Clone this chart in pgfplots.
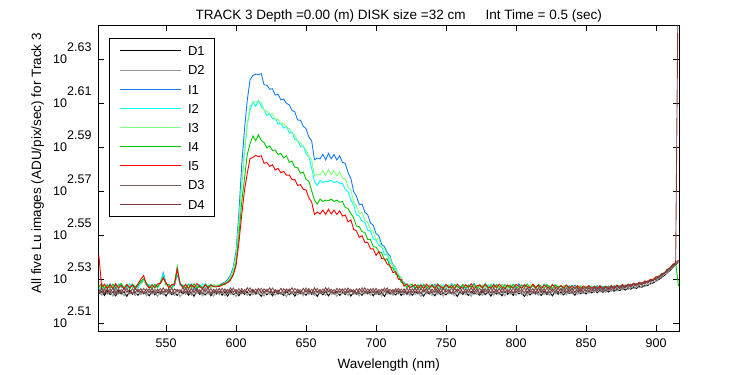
\documentclass[border=0pt]{standalone}
\usepackage{pgfplots}
\pgfplotsset{compat=1.18}
\usepackage{pgfplotstable}
\usepackage{fontspec}
\setmainfont{Liberation Sans}

\definecolor{cD2}{RGB}{150,150,150}
\definecolor{cI1}{RGB}{20,125,240}
\definecolor{cI2}{RGB}{0,255,255}
\definecolor{cI3}{RGB}{128,255,128}
\definecolor{cI4}{RGB}{0,200,0}
\definecolor{cI5}{RGB}{255,0,0}
\definecolor{cD3}{RGB}{125,90,90}
\definecolor{cD4}{RGB}{128,55,55}

\pgfplotstableread{
x D1 D2 I1 I2 I3 I4 I5 D3 D4
502 333.8 334.6 336.6 335.4 336.9 336.2 347.4 335.3 334.1
504 334.6 333.2 335.3 336.8 335.7 337.2 336.0 334.0 335.6
506 333.1 334.9 336.9 335.9 336.5 335.3 337.1 335.6 333.8
508 334.9 333.6 335.8 337.0 335.2 336.8 335.5 333.7 335.3
510 333.4 334.3 337.2 335.6 336.8 335.7 336.9 335.4 334.2
512 334.3 332.9 335.5 336.6 336.1 337.1 335.6 334.1 335.7
514 333.0 334.8 336.7 335.2 337.3 335.9 337.2 335.8 333.9
516 334.7 333.5 335.6 337.1 335.4 336.5 335.8 333.9 335.4
518 333.6 334.4 337.0 335.8 336.6 337.3 336.6 335.2 334.0
520 334.4 333.0 335.4 336.5 335.9 335.6 335.3 334.3 335.8
522 332.8 334.7 336.5 335.3 337.0 336.9 337.0 335.7 334.3
524 334.8 333.7 335.9 337.2 335.5 335.4 335.9 333.8 335.2
526 333.5 334.2 337.1 335.7 336.7 337.0 336.8 335.5 333.7
528 334.2 333.1 335.7 336.3 335.3 336.2 335.4 334.2 335.6
530 333.2 334.6 336.4 335.6 336.9 336.8 337.3 335.3 334.4
532 334.5 333.4 337.4 337.9 337.1 338.0 338.8 334.0 335.5
534 333.7 334.5 338.5 338.6 338.2 339.1 340.1 335.6 333.9
536 334.1 333.0 337.1 336.6 337.2 337.4 336.9 334.4 335.4
538 333.0 334.7 336.0 337.0 335.6 336.3 335.7 335.5 334.2
540 334.6 333.6 337.0 335.5 336.8 335.6 336.7 333.9 335.6
542 333.3 334.2 335.6 336.9 335.4 337.0 335.9 335.2 334.0
544 334.3 332.8 336.8 335.7 337.1 336.0 337.2 334.5 335.3
546 333.6 334.7 337.6 337.9 337.2 337.8 337.3 335.6 334.1
548 334.4 333.3 341.1 340.7 339.5 339.6 339.2 334.0 335.7
550 332.9 334.5 337.4 337.3 337.3 336.8 337.6 335.4 334.3
552 334.7 333.7 335.9 336.4 335.6 337.0 335.8 334.2 335.5
554 333.4 334.1 336.9 335.4 336.7 335.7 336.9 335.7 333.8
556 334.2 333.1 336.6 337.4 337.2 337.5 337.0 333.9 335.4
558 333.1 334.8 340.6 341.3 341.9 343.3 342.4 335.3 334.6
560 334.6 332.7 337.1 336.8 337.5 337.0 337.4 334.3 335.1
562 333.7 334.4 335.7 336.9 335.5 336.6 335.8 335.8 334.2
564 334.5 333.5 336.9 335.5 336.9 335.5 337.0 334.1 335.7
566 333.2 334.6 335.6 337.1 336.0 337.1 335.5 335.4 333.9
568 334.3 333.2 337.1 336.0 335.4 336.0 336.8 333.8 335.5
570 332.8 334.3 336.0 335.3 337.0 337.2 335.9 335.6 334.3
572 334.8 333.8 335.3 336.8 335.8 335.7 337.3 334.4 335.6
574 333.5 334.9 336.8 335.9 336.6 336.7 336.2 335.2 334.0
576 334.1 333.0 335.8 337.2 335.3 335.8 335.4 333.9 335.4
578 333.3 334.5 337.2 335.6 337.1 336.9 336.9 335.7 334.5
580 334.6 333.6 336.1 336.6 336.2 336.2 335.7 334.2 335.8
582 333.0 334.2 336.7 335.8 335.6 337.0 336.6 335.5 333.8
584 334.4 332.9 336.5 336.9 336.9 336.1 336.3 334.0 335.3
586 333.6 334.6 336.5 336.2 336.6 336.1 336.4 335.4 334.2
588 334.5 333.4 336.9 336.3 337.0 336.5 336.2 333.9 335.6
590 333.2 334.3 337.3 336.9 336.6 337.2 336.7 335.6 334.0
592 334.3 333.0 337.8 337.3 337.6 336.9 337.4 334.3 335.4
594 332.9 334.8 338.7 338.2 338.1 337.9 337.5 335.3 333.9
596 334.7 333.5 340.2 339.4 339.4 338.8 338.6 334.0 335.7
598 333.4 334.1 343.1 342.1 342.2 340.7 340.3 335.7 334.3
600 334.2 332.8 349.0 347.1 347.5 344.8 343.7 334.2 335.2
602 333.0 334.6 363.0 358.9 359.2 354.4 351.9 335.5 333.8
604 334.6 333.7 381.5 374.3 374.2 367.2 362.2 333.8 335.5
606 333.5 334.4 396.4 386.6 388.1 376.3 371.8 335.2 334.1
608 334.3 333.1 408.6 398.5 398.3 386.1 378.7 334.4 335.8
610 333.1 334.7 417.5 404.4 406.2 390.6 384.4 335.8 334.3
612 334.8 333.3 419.4 408.0 407.7 393.7 385.0 334.0 335.3
614 333.6 334.5 420.0 406.0 408.1 391.8 385.8 335.4 333.9
616 334.0 333.6 419.8 408.5 408.0 394.2 385.3 334.3 335.6
618 332.8 334.2 420.2 406.1 407.9 391.9 385.6 335.6 334.0
620 334.5 332.9 415.3 404.6 404.3 391.0 382.6 333.9 335.4
622 333.3 334.8 415.2 402.2 404.1 388.8 382.9 335.3 334.5
624 334.4 333.4 413.4 402.9 402.5 389.6 381.4 334.1 335.7
626 333.0 334.3 413.6 400.9 402.9 387.8 382.0 335.7 333.8
628 334.7 333.2 410.9 400.8 400.3 387.9 379.9 334.3 335.2
630 333.6 334.6 411.2 398.7 400.7 386.1 380.6 335.0 334.2
632 334.2 333.5 408.8 399.1 398.6 386.6 378.8 333.8 335.6
634 333.1 334.1 409.2 397.0 399.0 384.7 379.4 335.5 334.0
636 334.6 332.7 407.3 397.8 397.3 385.6 377.9 334.2 335.4
638 333.4 334.7 406.7 394.9 396.8 383.0 377.9 335.4 334.5
640 334.3 333.6 404.3 395.3 394.7 383.5 376.1 333.9 335.8
642 332.9 334.2 403.7 392.4 394.2 381.0 376.1 335.6 333.9
644 334.5 333.3 400.3 391.9 391.3 380.8 373.8 334.4 335.3
646 333.7 334.5 400.2 389.4 391.2 378.6 374.1 335.1 334.1
648 334.1 333.0 397.8 389.7 389.2 379.1 372.3 333.8 335.6
650 333.2 334.8 396.7 386.4 388.2 376.2 372.0 335.7 334.3
652 334.7 333.5 393.3 385.3 385.3 375.5 369.0 334.0 335.5
654 333.5 334.3 391.7 380.5 383.9 371.7 367.4 335.3 333.8
656 334.2 333.1 384.0 375.4 377.6 368.1 362.6 334.2 335.7
658 332.8 334.6 384.7 373.8 378.4 366.6 363.5 335.6 334.2
660 334.4 333.7 384.4 375.8 378.0 368.5 362.8 333.9 335.2
662 333.3 334.4 386.2 375.0 379.7 367.6 364.3 335.4 334.0
664 334.6 333.2 383.9 375.4 377.6 368.1 362.6 334.3 335.8
666 333.0 334.7 386.6 375.4 380.1 367.9 364.6 335.7 334.4
668 334.3 333.4 384.4 375.8 378.0 368.5 362.8 334.0 335.3
670 333.6 334.1 386.1 375.0 379.7 367.6 364.3 335.2 333.9
672 334.5 332.8 383.9 375.4 377.6 368.1 362.6 333.8 335.6
674 333.1 334.5 385.6 374.6 379.2 367.3 364.0 335.5 334.2
676 334.2 333.6 382.9 374.6 376.7 367.5 362.0 334.4 335.4
678 333.4 334.3 382.6 372.2 376.6 365.3 362.4 335.6 334.0
680 334.7 333.1 378.9 371.4 373.2 364.9 359.8 334.1 335.7
682 332.9 334.8 376.6 368.2 372.2 363.0 360.6 335.3 334.4
684 334.4 333.5 371.4 366.1 367.4 361.4 357.0 333.9 335.2
686 333.5 334.2 369.6 362.5 366.0 358.2 356.4 335.5 333.8
688 334.1 333.0 366.4 362.0 363.0 358.0 354.0 334.2 335.5
690 333.2 334.6 366.6 360.0 363.3 356.1 354.6 335.8 334.3
692 334.6 333.6 363.4 359.6 360.3 355.9 352.2 334.0 335.8
694 333.7 334.4 362.6 356.7 359.7 353.3 352.2 335.4 334.0
696 334.3 333.2 359.4 356.3 356.8 353.2 349.8 334.3 335.4
698 333.0 334.7 358.6 353.4 356.2 350.6 349.8 335.6 334.2
700 334.5 333.4 355.4 353.0 353.2 350.4 347.4 333.8 335.6
702 333.4 334.2 354.6 351.1 353.5 348.7 348.8 335.2 334.0
704 334.2 332.9 351.4 350.5 350.4 348.4 346.3 334.4 335.3
706 332.8 334.6 350.6 347.6 349.8 345.8 346.1 335.7 334.5
708 334.7 333.5 348.4 347.9 347.6 346.2 344.2 334.0 335.7
710 333.6 334.3 347.1 344.5 346.5 343.2 343.7 335.3 333.9
712 334.1 333.1 343.9 344.0 343.4 342.9 341.2 334.2 335.2
714 333.3 334.8 343.1 341.3 343.1 340.6 341.5 335.6 334.3
716 334.6 333.6 339.9 340.7 339.9 340.2 338.8 333.9 335.6
718 333.1 334.4 339.4 337.9 339.4 337.6 338.7 335.4 334.1
720 334.4 333.3 336.7 337.8 336.7 337.6 336.4 334.2 335.4
722 333.5 334.7 337.2 335.9 337.2 335.9 337.1 335.7 333.8
724 334.3 333.0 335.8 336.7 336.1 336.8 335.9 334.0 335.5
726 333.2 334.5 336.6 335.6 336.4 337.0 336.3 335.5 334.2
728 334.6 333.4 335.4 336.8 335.8 335.7 337.0 334.1 335.7
730 333.7 334.2 337.0 335.5 337.1 336.6 335.6 335.6 334.0
732 334.2 332.8 335.8 337.1 335.4 335.4 336.8 333.9 335.4
734 332.9 334.8 336.9 336.0 336.7 337.0 335.5 335.3 334.4
736 334.5 333.6 335.5 336.6 335.9 336.1 337.1 334.4 335.6
738 333.6 334.4 336.7 335.3 337.0 335.5 336.0 335.7 333.9
740 334.3 333.1 336.1 337.0 335.6 336.9 336.7 334.0 335.3
742 333.0 334.6 337.1 335.9 336.5 335.8 335.4 335.4 334.3
744 334.7 333.5 335.6 336.4 335.3 337.2 336.9 334.2 335.8
746 333.4 334.3 336.8 335.4 336.9 336.0 336.2 335.6 334.1
748 334.1 332.9 335.3 337.0 336.2 335.5 335.7 333.8 335.5
750 333.3 334.7 336.5 336.1 335.5 336.8 337.0 335.5 334.4
752 334.6 333.7 335.9 335.6 337.0 336.3 335.8 334.3 335.2
754 333.7 334.1 337.2 336.9 335.7 335.6 336.6 335.7 333.9
756 334.2 333.0 335.6 335.5 336.8 337.0 335.5 334.0 335.6
758 332.8 334.5 336.4 337.1 336.0 336.2 337.1 335.4 334.5
760 334.5 333.6 335.7 335.8 335.4 335.6 336.2 334.3 335.7
762 333.5 334.6 337.0 336.5 336.9 336.9 335.6 335.8 334.0
764 334.3 333.3 335.5 335.3 336.3 335.7 336.9 334.1 335.3
766 333.1 334.4 336.6 337.0 335.6 336.7 335.9 335.5 334.3
768 334.6 332.8 336.1 335.9 337.1 336.0 337.2 333.9 335.8
770 333.6 334.7 337.3 336.4 335.8 337.1 335.4 335.3 334.2
772 334.0 333.5 335.4 335.4 336.5 335.5 336.5 334.4 335.4
774 333.2 334.3 336.8 337.0 335.4 336.6 336.8 335.6 333.8
776 334.7 333.1 335.9 336.1 336.9 336.1 335.7 334.0 335.6
778 333.4 334.6 336.5 335.5 336.1 337.2 337.0 335.5 334.4
780 334.4 333.7 335.5 336.9 335.5 335.6 336.1 334.2 335.3
782 332.9 334.2 337.1 335.7 337.0 336.5 335.6 335.7 334.0
784 334.5 333.2 335.8 337.2 335.9 335.9 336.9 334.1 335.7
786 333.6 334.8 336.6 336.0 336.5 337.0 335.8 335.4 334.3
788 334.2 333.4 335.4 335.3 335.5 336.2 337.1 333.8 335.5
790 333.0 334.4 337.0 336.8 336.8 335.5 336.0 335.6 334.1
792 334.6 333.0 336.2 335.6 336.2 336.9 335.5 334.3 335.8
794 333.5 334.6 335.5 336.6 335.6 336.3 336.8 335.2 334.2
796 334.3 333.6 336.9 335.4 337.1 335.7 336.3 334.0 335.4
798 333.1 334.3 336.0 337.1 335.9 337.0 335.7 335.7 333.9
800 334.7 333.2 335.6 335.8 336.6 336.1 337.0 334.2 335.6
802 333.7 334.7 337.2 336.3 335.4 335.5 336.4 335.5 334.4
804 334.1 333.5 335.7 335.5 336.9 336.8 335.6 334.4 335.2
806 332.8 334.2 336.7 337.0 336.0 336.0 336.9 335.8 334.0
808 334.5 333.0 336.0 336.2 335.6 337.1 336.2 333.9 335.7
810 333.3 334.6 335.4 335.5 337.0 335.8 335.7 335.4 334.3
812 334.4 333.7 336.9 336.9 336.3 336.6 337.1 334.1 335.5
814 333.6 334.3 335.8 335.9 335.5 335.5 335.9 335.6 334.1
816 334.2 333.2 336.6 336.5 336.7 337.0 336.7 334.3 335.8
818 333.1 334.8 335.5 335.4 336.1 336.3 335.5 335.5 334.2
820 334.6 333.4 337.0 337.1 335.4 335.7 336.8 334.0 335.4
822 333.4 334.4 336.3 335.8 336.8 336.9 336.1 335.7 333.9
824 334.3 333.1 335.6 336.5 336.0 336.1 335.6 334.2 335.6
826 333.0 334.6 336.8 335.6 335.5 335.5 337.0 335.4 334.5
828 334.7 333.6 335.9 336.9 337.0 336.8 336.0 334.3 335.7
830 333.5 334.3 336.4 335.7 336.2 336.0 335.5 335.6 334.2
832 334.3 333.4 335.4 336.4 335.4 336.6 336.6 334.4 335.5
834 333.3 334.7 336.6 335.3 336.7 335.5 335.8 335.8 334.3
836 334.6 333.3 335.7 336.6 335.8 336.7 336.8 334.2 335.7
838 333.8 334.8 336.5 335.6 335.3 335.8 335.5 335.6 334.4
840 334.4 333.6 335.3 336.7 336.5 336.6 336.4 334.3 335.6
842 333.2 334.5 336.8 335.9 336.0 335.4 335.7 335.9 334.2
844 334.7 333.4 335.7 335.4 335.5 336.5 336.6 334.5 335.8
846 333.7 334.8 336.4 336.5 336.7 335.7 335.3 335.7 334.4
848 334.5 333.7 335.5 335.8 335.9 336.3 336.4 334.4 335.7
850 333.6 334.5 336.2 336.3 335.4 335.6 335.8 335.8 334.5
852 334.8 333.9 335.4 335.5 336.5 336.5 336.6 334.6 335.9
854 334.0 334.9 336.3 336.4 335.7 335.6 335.4 335.9 334.7
856 334.9 334.2 335.6 335.3 336.3 336.3 336.3 334.7 336.0
858 334.1 335.0 336.5 336.2 335.5 335.5 335.6 336.0 334.8
860 335.0 334.3 335.3 335.6 336.4 336.5 336.5 334.8 336.1
862 334.2 335.1 336.2 336.4 335.6 335.7 335.5 336.1 334.9
864 335.0 334.2 335.5 335.4 336.2 336.4 336.3 334.9 336.2
866 334.3 335.3 336.4 336.2 335.6 335.8 335.6 336.2 335.0
868 335.2 334.5 335.7 335.5 336.6 336.6 336.5 335.2 336.4
870 334.6 335.5 336.5 336.4 335.8 335.9 335.8 336.4 335.3
872 335.4 334.8 335.8 335.7 336.7 336.7 336.7 335.4 336.5
874 334.8 335.6 336.6 336.6 336.0 336.1 336.0 336.5 335.5
876 335.6 335.0 336.0 335.9 336.8 336.9 336.9 335.6 336.6
878 335.0 335.9 336.8 336.8 336.2 336.3 336.2 336.7 335.8
880 335.8 335.2 336.1 336.2 337.0 337.1 337.1 335.9 336.9
882 335.3 336.1 337.1 337.0 336.5 336.6 336.5 337.0 336.1
884 336.0 335.5 336.4 336.5 337.3 337.4 337.4 336.2 337.1
886 335.6 336.4 337.4 337.2 336.8 336.9 336.8 337.3 336.5
888 336.3 335.8 336.8 336.9 337.6 337.7 337.8 336.6 337.4
890 336.0 336.7 337.8 337.6 337.2 337.3 337.2 337.6 336.9
892 336.7 336.2 337.3 337.4 338.1 338.1 338.2 337.1 337.8
894 336.6 337.2 338.3 338.2 337.8 337.9 337.8 338.1 337.5
896 337.3 336.9 338.0 338.1 338.7 338.8 338.8 337.8 338.4
898 337.5 338.1 339.0 338.9 338.6 338.7 338.6 338.8 338.3
900 338.3 337.9 338.9 339.0 339.6 339.7 339.7 338.7 339.3
902 338.7 339.3 340.0 339.9 339.6 339.8 339.7 339.9 339.4
904 339.6 339.2 340.1 340.2 340.7 340.8 340.8 339.9 340.5
906 340.1 340.6 341.3 341.2 341.0 341.1 341.0 341.2 340.9
908 341.2 340.9 341.6 341.7 342.2 342.3 342.3 341.5 342.1
910 341.9 342.4 343.0 342.9 342.8 342.9 342.8 342.9 342.6
912 343.1 342.8 343.5 343.6 344.1 344.1 344.2 343.3 343.9
914 344.0 344.5 344.8 344.7 344.5 344.6 344.5 344.6 344.3
916 345.0 344.8 345.3 345.5 345.0 336.5 345.6 345.2 480.0
}\datatab

\begin{document}
\begin{tikzpicture}
\path[use as bounding box] (0pt,0pt) rectangle (750pt,375pt);
\begin{axis}[
  at={(98.3pt,44pt)}, anchor=south west,
  width=581pt, height=305.5pt, scale only axis,
  xmin=501.6, xmax=916.6,
  ymode=log, ymin=320.97, ymax=441.98,
  xtick={550,600,650,700,750,800,850,900},
  ytick={323.594,338.844,354.813,371.535,389.045,407.380,426.580},
  yticklabels={
    10\smash{\raisebox{12.3pt}{2.51}},
    10\smash{\raisebox{12.3pt}{2.53}},
    10\smash{\raisebox{12.3pt}{2.55}},
    10\smash{\raisebox{12.3pt}{2.57}},
    10\smash{\raisebox{12.3pt}{2.59}},
    10\smash{\raisebox{12.3pt}{2.61}},
    10\smash{\raisebox{12.3pt}{2.63}}},
  yminorticks=false, xminorticks=false,
  /pgf/number format/assume math mode=true,
  tick align=inside, major tick length=6pt,
  axis line style={black, line width=0.8pt},
  major tick style={black, line width=0.8pt},
  tick label style={font=\fontsize{12.5}{15}\selectfont},
  xticklabel style={yshift=-4.5pt},
  yticklabel style={xshift=-3.3pt},
  xlabel={Wavelength (nm)},
  xlabel style={at={(axis description cs:0.5,-0.1113)}, anchor=center, font=\fontsize{13.5}{16}\selectfont},
  ylabel={All five Lu images (ADU/pix/sec) for Track 3},
  ylabel style={at={(axis description cs:-0.1046,0.5483)}, anchor=center, font=\fontsize{13.5}{16}\selectfont},
  title={TRACK 3 Depth =0.00 (m) DISK size =32 cm\hspace{20pt}Int Time = 0.5 (sec)},
  every axis title/.style={at={(axis description cs:0.517,1.0203)}, anchor=base, font=\fontsize{13.5}{16}\selectfont},
  legend image code/.code={\draw[#1, line width=1pt] (0pt,0pt) -- (61pt,0pt);},
  legend cell align=left,
  legend style={at={(axis description cs:0.0184,0.9581)}, anchor=north west,
    draw=black, line width=0.8pt, fill=white,
    font=\fontsize{13}{15}\selectfont,
    inner xsep=10pt, inner ysep=7.6pt, row sep=9.66pt, column sep=6.7pt,
    nodes={inner sep=0pt, text height=9.5pt, text depth=0pt}},
  every axis plot/.append style={line width=0.9pt, mark=none},
]
\addplot[color=black] table[x=x, y=D1] {\datatab};
\addplot[color=cD2] table[x=x, y=D2] {\datatab};
\addplot[color=cI1] table[x=x, y=I1] {\datatab};
\addplot[color=cI2] table[x=x, y=I2] {\datatab};
\addplot[color=cI3] table[x=x, y=I3] {\datatab};
\addplot[color=cI4] table[x=x, y=I4] {\datatab};
\addplot[color=cI5] table[x=x, y=I5] {\datatab};
\addplot[color=cD3] table[x=x, y=D3] {\datatab};
\addplot[color=cD4] table[x=x, y=D4] {\datatab};
\legend{D1,D2,I1,I2,I3,I4,I5,D3,D4}
\end{axis}
\end{tikzpicture}
\end{document}
